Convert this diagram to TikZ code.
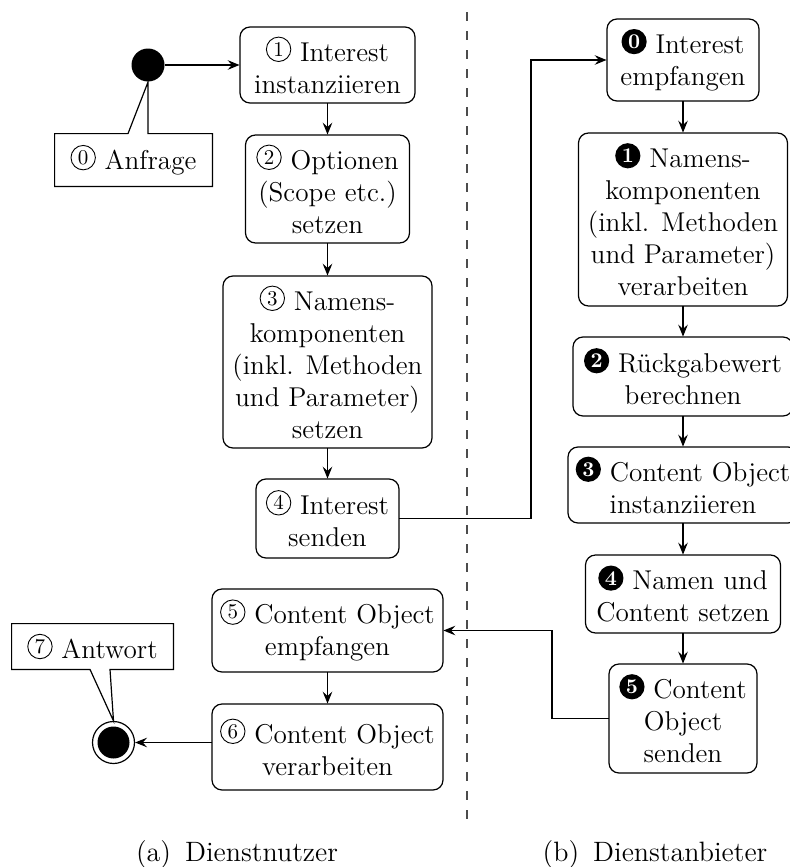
\documentclass[tikz,border=0pt]{standalone}
\usepackage{fontspec}
\usetikzlibrary{arrows.meta}

% circled step numbers: outlined for the consumer, filled for the provider
\newcommand\stepo[1]{\tikz[baseline=0pt]{%
  \draw[draw=black,fill=white,line width=0.45pt] (0pt,5.9pt) circle[radius=6.1pt];
  \node[draw=none,fill=none,text=black,inner sep=0pt,minimum width=0pt,minimum height=0pt,
    font=\fontsize{10.5}{10.5}\selectfont] (numo) at (0pt,5.9pt) {#1};}}
\newcommand\stepf[1]{\tikz[baseline=0pt]{%
  \fill[black] (0pt,5.9pt) circle[radius=6.3pt];
  \node[draw=none,fill=none,text=white,inner sep=0pt,minimum width=0pt,minimum height=0pt,
    font=\fontsize{10.5}{10.5}\selectfont\bfseries] (numf) at (0pt,5.9pt) {#1};}}

\begin{document}
\begin{tikzpicture}[x=0.5pt,y=-0.5pt,
  line width=0.6pt,
  >={Stealth[length=6pt,width=4.8pt,inset=2.2pt]},
  sz/.style 2 args={minimum width=#1*0.5pt,minimum height=#2*0.5pt},
  act/.style={draw,rounded corners=5pt,align=center,inner sep=0pt,
    font=\fontsize{13.6}{16}\selectfont},
  note/.style={align=center,inner sep=0pt,font=\fontsize{13.6}{16}\selectfont},
  flow/.style={->},
  divider/.style={draw=black!70,line width=0.55pt,dash pattern=on 4.5pt off 5pt},
  capt/.style={anchor=base,inner sep=0pt,font=\fontsize{14}{16}\selectfont}]

\useasboundingbox (0,0) rectangle (789,867);

% ---------- Dienstnutzer ----------
\node[circle,fill=black,minimum size=16.5pt,inner sep=0pt] (start) at (148,65) {};
\node[act,sz={175}{76}]  (L1) at (327.5,65)  {\stepo{1} Interest\\instanziieren};
\node[act,sz={164}{108}] (L2) at (327.5,189) {\stepo{2} Optionen\\(Scope etc.)\\setzen};
\node[act,sz={209}{172}] (L3) at (327.5,362) {\stepo{3} Namens-\\komponenten\\(inkl. Methoden\\und Parameter)\\setzen};
\node[act,sz={143}{79}]  (L4) at (327.5,518.5) {\stepo{4} Interest\\senden};
\node[act,sz={231}{83}]  (L5) at (327.5,630.5) {\stepo{5} Content Object\\empfangen};
\node[act,sz={231}{86}]  (L6) at (327.5,747) {\stepo{6} Content Object\\verarbeiten};

\node[circle,draw,minimum size=21pt,inner sep=0pt] (endc) at (113.5,742.5) {};
\node[circle,fill=black,minimum size=16pt,inner sep=0pt] (endcore) at (endc) {};

% callout "Anfrage"
\node[note,sz={157}{52}] (anf) at (133.5,160) {\stepo{0} Anfrage};
\path (start.south |- anf.north) coordinate (anfR) ++(-20,0) coordinate (anfL);
\draw (anf.north west) -- (anfL) -- (start.south) -- (anfR) -- (anf.north east)
  -- (anf.south east) -- (anf.south west) -- cycle;

% callout "Antwort"
\node[note,sz={161}{45}] (antw) at (92.5,646.5) {\stepo{7} Antwort};
\path (endc.north |- antw.south) ++(-3.5,0) coordinate (antR) ++(-20,0) coordinate (antL);
\draw (antw.north west) -- (antw.north east) -- (antw.south east) -- (antR)
  -- (endc.north) -- (antL) -- (antw.south west) -- cycle;

\draw[flow] (start) -- (L1);
\draw[flow] (L1) -- (L2);
\draw[flow] (L2) -- (L3);
\draw[flow] (L3) -- (L4);
\draw[flow] (L5) -- (L6);
\draw[flow] (L6.west |- endc) -- (endc);

% ---------- Dienstanbieter ----------
\node[act,sz={152}{82}]  (R0) at (683,60)    {\stepf{0} Interest\\empfangen};
\node[act,sz={209}{173}] (R1) at (683,219.5) {\stepf{1} Namens-\\komponenten\\(inkl. Methoden\\und Parameter)\\verarbeiten};
\node[act,sz={220}{79}]  (R2) at (683,376.5) {\stepf{2} Rückgabewert\\berechnen};
\node[act,sz={230}{76}]  (R3) at (683,485)   {\stepf{3} Content Object\\instanziieren};
\node[act,sz={195}{78}]  (R4) at (683,594)   {\stepf{4} Namen und\\Content setzen};
\node[act,sz={148}{109}] (R5) at (683,718.5) {\stepf{5} Content\\Object\\senden};

\draw[flow] (R0) -- (R1);
\draw[flow] (R1) -- (R2);
\draw[flow] (R2) -- (R3);
\draw[flow] (R3) -- (R4);
\draw[flow] (R4) -- (R5);

% messages across the boundary
\coordinate (busA) at (531,0);
\coordinate (busB) at (552,0);
\draw[flow] (L4.east) -- (L4.east -| busA) -- (R0.west -| busA) -- (R0.west);
\draw[flow] (R5.west) -- (R5.west -| busB) -- (L5.east -| busB) -- (L5.east);

% boundary between the two roles
\draw[divider] (467,12) -- (467,827);

% sub-captions
\node[capt] (capA) at (237,861) {(a)\enspace Dienstnutzer};
\node[capt] (capB) at (655,861) {(b)\enspace Dienstanbieter};
\end{tikzpicture}
\end{document}
